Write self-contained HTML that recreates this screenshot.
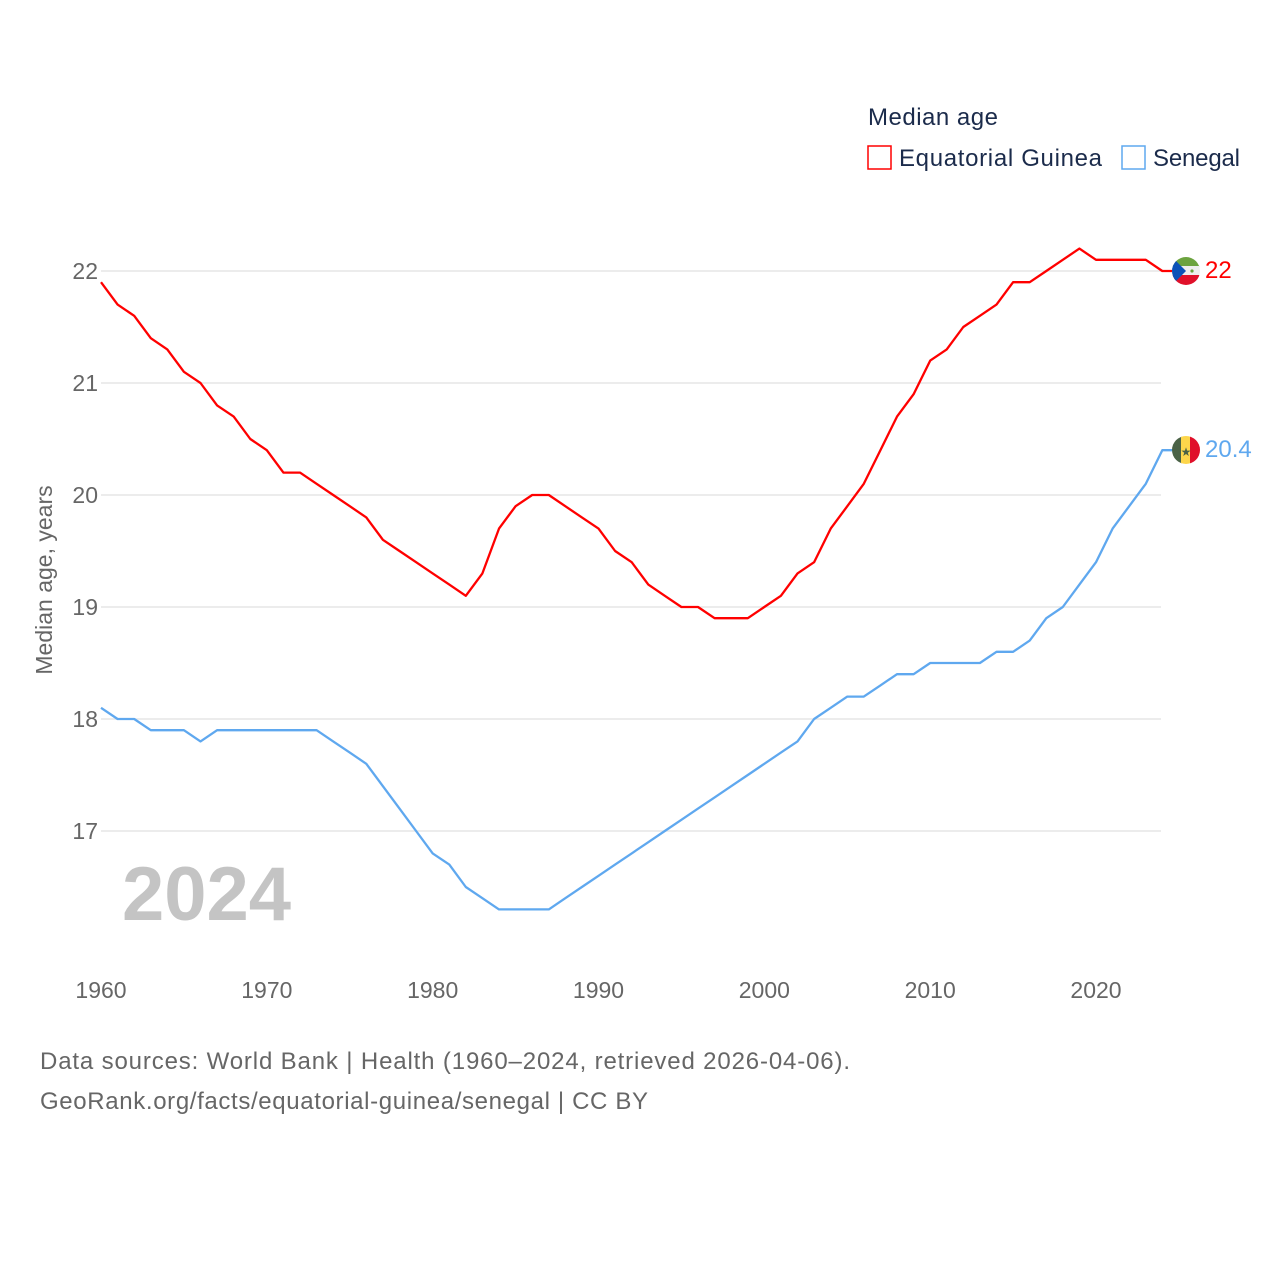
<!DOCTYPE html>
<html><head><meta charset="utf-8"><style>
body{margin:0;background:#fff;font-family:"Liberation Sans",sans-serif}
svg text{font-family:"Liberation Sans",sans-serif}
</style></head><body>
<svg width="1280" height="1280" viewBox="0 0 1280 1280">
<g id="grid"></g>
<g id="yt"></g>
<g id="xt"></g>
<text x="52" y="580" transform="rotate(-90 52 580)" text-anchor="middle" font-size="23" fill="#666">Median age, years</text>
<text x="122" y="920" font-size="76" font-weight="bold" fill="#c4c4c4">2024</text>
<g id="series"></g>
<g>
<text x="868" y="125" font-size="24" fill="#1b2b4b" textLength="130">Median age</text>
<rect x="868" y="146" width="23" height="23" fill="none" stroke="#ff0000" stroke-width="1.5"/>
<text x="899" y="166" font-size="24" fill="#1b2b4b" textLength="203">Equatorial Guinea</text>
<rect x="1122" y="146" width="23" height="23" fill="none" stroke="#5fa8ef" stroke-width="1.5"/>
<text x="1153" y="166" font-size="24" fill="#1b2b4b" textLength="87">Senegal</text>
</g>
<defs>
<clipPath id="c1"><circle cx="1186" cy="271" r="14"/></clipPath>
<clipPath id="c2"><circle cx="1186" cy="450" r="14"/></clipPath>
</defs>
<g clip-path="url(#c1)">
<rect x="1172" y="257" width="28" height="10" fill="#6ca33f"/><rect x="1172" y="266" width="28" height="10" fill="#eee"/><rect x="1172" y="275" width="28" height="10" fill="#e0102a"/>
<polygon points="1172,257 1186,271 1172,285" fill="#0b52b8"/><circle cx="1192" cy="271" r="1.6" fill="#6ca33f"/>
</g>
<g clip-path="url(#c2)">
<rect x="1172" y="436" width="10" height="28" fill="#4a6246"/><rect x="1181" y="436" width="10" height="28" fill="#fdd64b"/><rect x="1190" y="436" width="10" height="28" fill="#e0102a"/>
<text x="1186" y="456" text-anchor="middle" font-size="12" fill="#4a6246">★</text>
</g>
<text x="1205" y="278" font-size="24" fill="#ff0000">22</text>
<text x="1205" y="457" font-size="24" fill="#5fa8ef">20.4</text>
<text x="40" y="1069" font-size="24" fill="#666" textLength="810">Data sources: World Bank | Health (1960–2024, retrieved 2026-04-06).</text>
<text x="40" y="1109" font-size="24" fill="#666" textLength="608">GeoRank.org/facts/equatorial-guinea/senegal | CC BY</text>
</svg>
<script>
const years=[];for(let y=1960;y<=2024;y++)years.push(y);
const eqGuinea=[21.9,21.7,21.6,21.4,21.3,21.1,21.0,20.8,20.7,20.5,20.4,20.2,20.2,20.1,20.0,19.9,19.8,19.6,19.5,19.4,19.3,19.2,19.1,19.3,19.7,19.9,20.0,20.0,19.9,19.8,19.7,19.5,19.4,19.2,19.1,19.0,19.0,18.9,18.9,18.9,19.0,19.1,19.3,19.4,19.7,19.9,20.1,20.4,20.7,20.9,21.2,21.3,21.5,21.6,21.7,21.9,21.9,22.0,22.1,22.2,22.1,22.1,22.1,22.1,22.0];
const senegal=[18.1,18.0,18.0,17.9,17.9,17.9,17.8,17.9,17.9,17.9,17.9,17.9,17.9,17.9,17.8,17.7,17.6,17.4,17.2,17.0,16.8,16.7,16.5,16.4,16.3,16.3,16.3,16.3,16.4,16.5,16.6,16.7,16.8,16.9,17.0,17.1,17.2,17.3,17.4,17.5,17.6,17.7,17.8,18.0,18.1,18.2,18.2,18.3,18.4,18.4,18.5,18.5,18.5,18.5,18.6,18.6,18.7,18.9,19.0,19.2,19.4,19.7,19.9,20.1,20.4];
const yTicks=[17,18,19,20,21,22];
const xTicks=[1960,1970,1980,1990,2000,2010,2020];
const X=y=>101+(y-1960)*(995/60);
const Y=v=>271-(v-22)*112;
const NS='http://www.w3.org/2000/svg';
function mk(t,a,p){const e=document.createElementNS(NS,t);for(const k in a)e.setAttribute(k,a[k]);p.appendChild(e);return e;}
const grid=document.getElementById('grid'),yt=document.getElementById('yt'),xt=document.getElementById('xt'),ser=document.getElementById('series');
yTicks.forEach(v=>{
 const l=mk('line',{x1:101,x2:1161,y1:Y(v),y2:Y(v),stroke:'#e6e6e6','stroke-width':1.5},grid);
 
 
 const t=mk('text',{x:98,y:Y(v)+8,'text-anchor':'end','font-size':23,fill:'#666'},yt);t.textContent=v;
 
 
});
xTicks.forEach(v=>{
 const t=mk('text',{x:X(v),y:998,'text-anchor':'middle','font-size':23,fill:'#666'},xt);t.textContent=v;
 
 
});
function line(data,color,name){
 let d=data.map((v,i)=>(i?'L':'M')+X(years[i]).toFixed(1)+' '+Y(v).toFixed(1)).join(' ');
 d+=' L'+(X(years[years.length-1])+10).toFixed(1)+' '+Y(data[data.length-1]).toFixed(1);
 const p=mk('path',{d:d,fill:'none',stroke:color,'stroke-width':2.3,'stroke-linejoin':'round'},ser);
 
 
}
line(senegal,'#5fa8ef','senegal-line');
line(eqGuinea,'#ff0000','eq-guinea-line');
</script>
</body></html>
